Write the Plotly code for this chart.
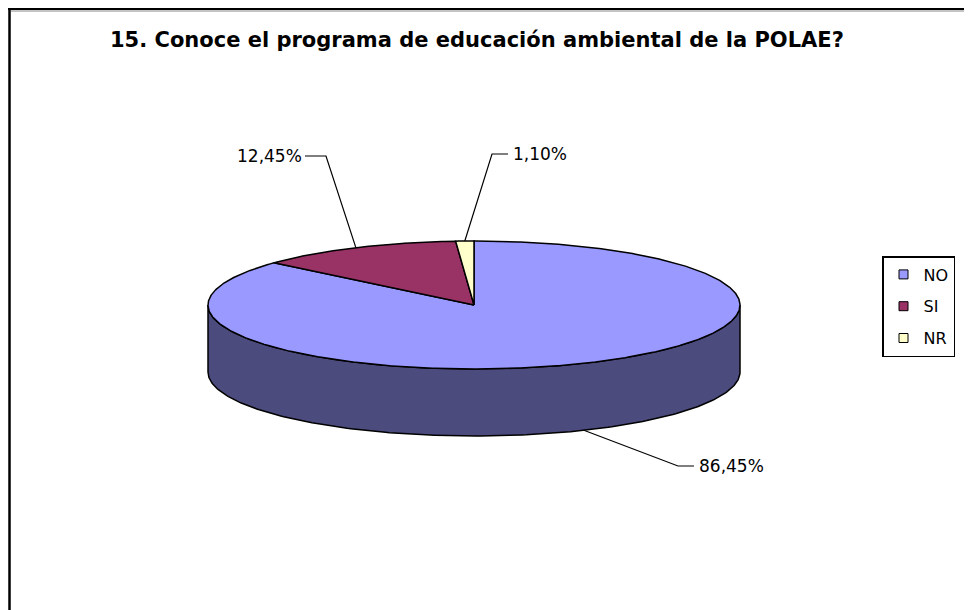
import numpy as np
import plotly.graph_objects as go

# ---- data ----
categories = ["NO", "SI", "NR"]
values = [86.45, 12.45, 1.10]
title_text = "15. Conoce el programa de educación ambiental de la POLAE?"

# ---- style ----
top_colors = ["#9999FF", "#993366", "#FFFFCC"]
side_colors = ["#4B4B7E", "#4C1933", "#7F7F66"]
FONT = "DejaVu Sans"
W, H = 972, 610
OFF = 8  # page body margin offset, so axis units equal page pixels
CX, CY, RX, RY, DEPTH = 474, 305, 266, 64, 67

# label placement (text anchor, elbow, horizontal end) per category
label_layout = {
    "NO": dict(tx=697, ty=466, elbow=(678, 466), hend=(694, 466), xanchor="left", side=True),
    "SI": dict(tx=304, ty=156, elbow=(326, 156), hend=(305, 156), xanchor="right", side=False),
    "NR": dict(tx=511, ty=154, elbow=(492, 154), hend=(508, 154), xanchor="left", side=False),
}


def ell(theta_deg, dy=0.0):
    t = np.radians(theta_deg)
    return CX + RX * np.sin(t), CY - RY * np.cos(t) + dy


fig = go.Figure()

total = sum(values)
starts, ends = [], []
acc = 0.0
for v in values:
    starts.append(acc / total * 360.0)
    acc += v
    ends.append(acc / total * 360.0)

# sides (front half: 90..270 deg clockwise from top)
for i, cat in enumerate(categories):
    lo, hi = max(starts[i], 90.0), min(ends[i], 270.0)
    if hi <= lo:
        continue
    th = np.linspace(lo, hi, 200)
    xt, yt = ell(th)
    xb, yb = ell(th[::-1], DEPTH)
    xs = np.concatenate([xt, xb, xt[:1]])
    ys = np.concatenate([yt, yb, yt[:1]])
    fig.add_trace(go.Scatter(x=xs, y=ys, mode="lines", fill="toself",
                             fillcolor=side_colors[i],
                             line=dict(color="black", width=1.5),
                             hoverinfo="skip", showlegend=False))

# top faces
for i, cat in enumerate(categories):
    n = max(int((ends[i] - starts[i]) * 2), 4)
    th = np.linspace(starts[i], ends[i], n)
    xa, ya = ell(th)
    xs = np.concatenate([[CX], xa, [CX]])
    ys = np.concatenate([[CY], ya, [CY]])
    fig.add_trace(go.Scatter(x=xs, y=ys, mode="lines", fill="toself",
                             fillcolor=top_colors[i],
                             line=dict(color="black", width=1.5),
                             hoverinfo="skip", showlegend=False))

# labels with leader lines
annotations = []
for i, cat in enumerate(categories):
    mid = (starts[i] + ends[i]) / 2.0
    L = label_layout[cat]
    ax, ay = ell(mid, DEPTH if L["side"] else 0.0)
    fig.add_trace(go.Scatter(x=[ax, L["elbow"][0], L["hend"][0]],
                             y=[ay, L["elbow"][1], L["hend"][1]],
                             mode="lines", line=dict(color="black", width=1.2),
                             hoverinfo="skip", showlegend=False))
    txt = f"{values[i]:.2f}".replace(".", ",") + "%"
    annotations.append(dict(x=L["tx"], y=L["ty"], xref="x", yref="y", text=txt,
                            showarrow=False, xanchor=L["xanchor"], yanchor="middle",
                            font=dict(family=FONT, size=17, color="black")))

# legend entries
for i, cat in enumerate(categories):
    fig.add_trace(go.Scatter(x=[None], y=[None], mode="markers", name=cat,
                             legendgroup=cat,
                             marker=dict(symbol="square", size=9, color=top_colors[i],
                                         line=dict(color="black", width=1))))

annotations.append(dict(x=477, y=40, xref="x", yref="y",
                        text="<b>" + title_text + "</b>", showarrow=False,
                        xanchor="center", yanchor="middle",
                        font=dict(family=FONT, size=21, color="black")))

shapes = [
    dict(type="line", xref="x", yref="y", x0=9.5, y0=H + OFF, x1=9.5, y1=9,
         line=dict(color="black", width=2.5)),
    dict(type="line", xref="x", yref="y", x0=8, y0=9, x1=W + OFF, y1=9,
         line=dict(color="black", width=2)),
    dict(type="line", xref="x", yref="y", x0=11, y0=11, x1=W + OFF, y1=11,
         line=dict(color="#888888", width=1)),
]

fig.update_layout(
    width=W, height=H, autosize=False,
    margin=dict(l=0, r=0, t=0, b=0),
    paper_bgcolor="white", plot_bgcolor="white",
    xaxis=dict(range=[OFF, W + OFF], visible=False, fixedrange=True),
    yaxis=dict(range=[H + OFF, OFF], visible=False, fixedrange=True),
    showlegend=True,
    legend=dict(x=(955 - OFF) / W, y=1 - (256 - OFF) / H, xanchor="right", yanchor="top",
                bordercolor="black", borderwidth=1.5, bgcolor="white",
                tracegroupgap=8, itemwidth=30,
                font=dict(family=FONT, size=16, color="black")),
    annotations=annotations,
    shapes=shapes,
)

fig.write_html("out.html")
